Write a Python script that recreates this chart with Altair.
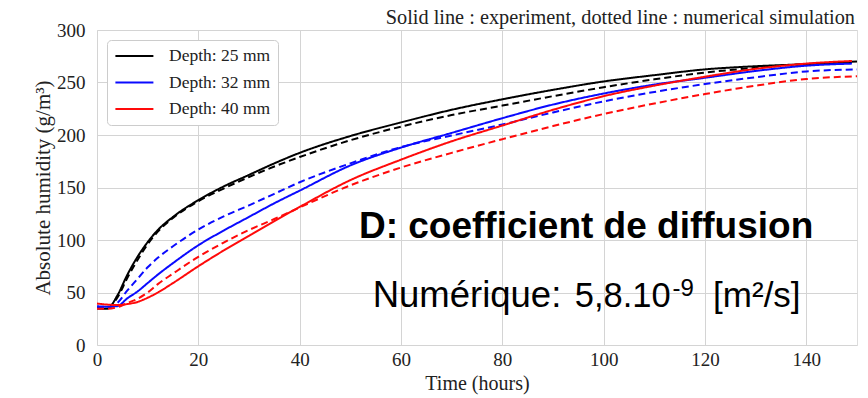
import altair as alt
import pandas as pd

# ---------------- data ----------------
hours_exp = [0, 2, 4, 6, 8, 10, 12, 15, 20, 25, 30, 35, 40, 50, 60, 70, 80, 90, 100, 110, 120, 130, 140, 149]
hours_sim = [0, 2, 4, 6, 8, 10, 12, 15, 20, 25, 30, 35, 40, 50, 60, 70, 80, 90, 100, 110, 120, 130, 140, 150]

exp_25 = [35, 34.5, 47, 67, 84, 98, 109.5, 122, 138, 151, 162, 173, 183, 199, 212, 224, 234, 243, 251, 257, 262.5, 265.5, 267.5, 269.5]
sim_25 = [35, 35, 45, 64, 81, 96, 108, 121, 137, 149, 160, 170, 179, 195, 208, 219, 228, 237, 245.5, 253, 259.5, 264, 267.5, 270]
exp_32 = [37, 36.5, 37, 44.5, 51, 59, 67, 78, 95, 109, 122, 135, 147, 171, 188, 202, 216, 229, 239.5, 248, 254.5, 261, 266, 268]
sim_32 = [35, 35.5, 40, 52, 63, 74, 83, 94, 110, 122.5, 133, 144, 155, 173, 188.5, 199.5, 210, 221.5, 232, 241, 248.5, 255, 260.5, 262.5]
exp_40 = [39.5, 38.5, 38, 39, 41, 45, 50, 59, 75, 90, 104, 118, 131.5, 157, 176.5, 194, 209, 224, 237, 247, 255.5, 263, 268, 270.5]
sim_40 = [34.5, 34.5, 36, 40, 44, 50, 58, 68, 84, 97.5, 109.5, 120, 131, 152, 169, 183, 196, 208.5, 220, 230, 239, 247, 253.3, 256]

depths = ["Depth: 25 mm", "Depth: 32 mm", "Depth: 40 mm"]
colors = ["#000000", "#0a0aff", "#ff0a0a"]
kinds = ["experiment", "simulation"]

x_ticks = [0, 20, 40, 60, 80, 100, 120, 140]
y_ticks = [0, 50, 100, 150, 200, 250, 300]

title_text = "Solid line : experiment, dotted line : numerical simulation"
note_bold = "D: coefficient de diffusion"
note_label = "Numérique:"
note_value = "5,8.10"
note_exp = "-9"
note_unit = "[m²/s]"

# ---------------- table ----------------
rows = []
series = [
    (depths[0], kinds[0], hours_exp, exp_25),
    (depths[0], kinds[1], hours_sim, sim_25),
    (depths[1], kinds[0], hours_exp, exp_32),
    (depths[1], kinds[1], hours_sim, sim_32),
    (depths[2], kinds[0], hours_exp, exp_40),
    (depths[2], kinds[1], hours_sim, sim_40),
]
for d, k, hs, vs in series:
    for h, v in zip(hs, vs):
        rows.append({"depth": d, "kind": k, "series": d + " " + k, "hours": h, "value": v})
df = pd.DataFrame(rows)

SERIF = "Liberation Serif"
SANS = "Liberation Sans"

xscale = alt.Scale(domain=[0, 150], nice=False, zero=False)
yscale = alt.Scale(domain=[0, 300], nice=False)

lines = alt.Chart(df).mark_line(strokeWidth=2, interpolate="monotone").encode(
    x=alt.X("hours:Q", scale=xscale,
            axis=alt.Axis(values=x_ticks, title="Time (hours)", labelFont=SERIF, labelFontSize=19,
                          labelPadding=5, titleFont=SERIF, titleFontSize=20, titleFontWeight="normal",
                          titlePadding=4, ticks=False, domain=False, gridColor="#d4d4d4",
                          labelColor="#222", titleColor="#222", labelFlush=False)),
    y=alt.Y("value:Q", scale=yscale,
            axis=alt.Axis(values=y_ticks, title="Absolute humidity (g/m³)", labelFont=SERIF,
                          labelFontSize=19, labelPadding=12, titleFont=SERIF, titleFontSize=21,
                          titleFontWeight="normal", titlePadding=3, ticks=False, domain=False,
                          gridColor="#d4d4d4", labelColor="#222", titleColor="#222")),
    color=alt.Color("depth:N", scale=alt.Scale(domain=depths, range=colors),
                    legend=alt.Legend(title=None, orient="none", legendX=10, legendY=10,
                                      symbolType="M-1,0H4", symbolSize=231, symbolStrokeWidth=2,
                                      labelFont=SERIF, labelFontSize=17.5, labelColor="#222",
                                      rowPadding=8.5, labelOffset=37, padding=7,
                                      fillColor="white", strokeColor="#cccccc", cornerRadius=4)),
    strokeDash=alt.StrokeDash("kind:N", scale=alt.Scale(domain=kinds, range=[[1, 0], [7, 4]]), legend=None),
    detail="series:N",
)

def note(hours, value, text, size, weight="normal"):
    return alt.Chart(pd.DataFrame({"hours": [hours], "value": [value], "t": [text]})).mark_text(
        font=SANS, fontSize=size, fontWeight=weight, align="left", baseline="alphabetic", color="black"
    ).encode(x=alt.X("hours:Q", scale=xscale), y=alt.Y("value:Q", scale=yscale), text="t:N")

ann_bold = note(51.7, 101.6, note_bold, 37, "bold")
ann_label = note(54.4, 36.5, note_label, 36.5)
ann_value = note(94.3, 36.5, note_value, 34.5)
ann_exp = note(113.6, 46.2, note_exp, 24)
ann_unit = note(121.6, 36.5, note_unit, 35)

top_note = alt.Chart(pd.DataFrame({"t": [title_text]})).mark_text(
    font=SERIF, fontSize=20.3, align="right", baseline="alphabetic", color="#222"
).encode(x=alt.value(758), y=alt.value(-6), text="t:N")

chart = alt.layer(lines, ann_bold, ann_label, ann_value, ann_exp, ann_unit, top_note).properties(
    width=760, height=315,
    padding={"left": 97, "top": 30, "right": 11, "bottom": 53},
    autosize=alt.AutoSizeParams(type="none"),
).configure_view(stroke="#333333", strokeWidth=1.5).configure(background="white")

chart.save("out.html", embed_options={"renderer": "svg", "actions": False})
